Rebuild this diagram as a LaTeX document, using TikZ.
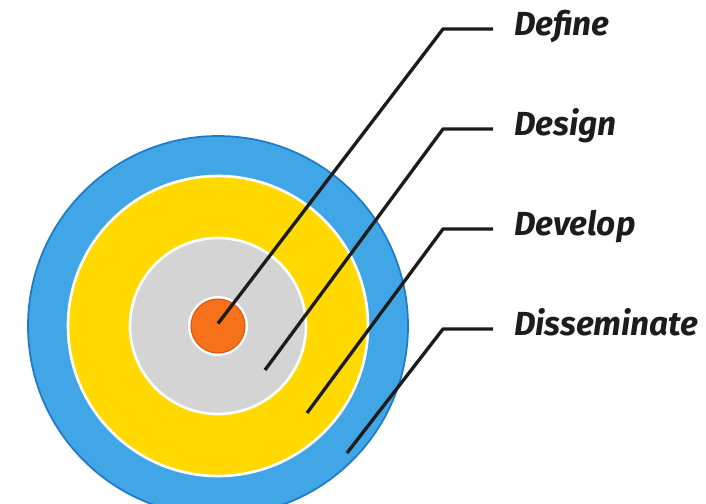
\documentclass[tikz,border=0pt]{standalone}
\usepackage{fontspec}
\setmainfont{Fira Sans}
\usetikzlibrary{positioning}

\definecolor{ringblue}{HTML}{41A6E6}
\definecolor{ringblueedge}{HTML}{1F7ACC}
\definecolor{ringyellow}{HTML}{FFD900}
\definecolor{ringgray}{HTML}{D4D4D4}
\definecolor{coreorange}{HTML}{F7711A}
\definecolor{coreedge}{HTML}{E0520A}
\definecolor{leader}{HTML}{1C1C1C}

\tikzset{
  stage/.style={anchor=west, inner xsep=0.42cm, inner ysep=0pt, outer sep=0pt,
    text height=0.7em, text depth=0pt,
    font=\fontsize{19}{21}\selectfont\bfseries\itshape, text=leader},
  leaderline/.style={draw=leader, line width=1.9pt, line join=round},
}

\begin{document}
\begin{tikzpicture}
  \useasboundingbox (-4.36,-3.54) rectangle (9.76,6.52);

  % Rings, outside in
  \fill[ringblue, draw=ringblueedge, line width=1pt] (0,0) circle (3.8);
  \fill[ringyellow, draw=white, line width=1.5pt] (0,0) circle (3.0);
  \fill[ringgray, draw=white, line width=1.5pt] (0,0) circle (1.76);
  \fill[white] (0,0) circle (0.6);
  \fill[coreorange, draw=coreedge, line width=0.6pt] (0,0) circle (0.54);

  % Free ends of the leaders inside the rings
  \coordinate (inDefine) at (0,0.05);
  \coordinate (inDesign) at (0.94,-0.88);
  \coordinate (inDevelop) at (1.78,-1.74);
  \coordinate (inDisseminate) at (2.58,-2.54);

  % Elbows
  \coordinate (kDefine) at (4.5,5.94);
  \coordinate (kDesign) at (4.5,3.94);
  \coordinate (kDevelop) at (4.5,1.94);
  \coordinate (kDisseminate) at (4.5,-0.06);

  % Labels
  \node[stage] (define) at (5.5,5.94) {Define};
  \node[stage] (design) at (5.5,3.94) {Design};
  \node[stage] (develop) at (5.5,1.94) {Develop};
  \node[stage] (disseminate) at (5.5,-0.06) {Disseminate};

  % Leader lines
  \draw[leaderline] (inDefine) -- (kDefine) -- (define.west);
  \draw[leaderline] (inDesign) -- (kDesign) -- (design.west);
  \draw[leaderline] (inDevelop) -- (kDevelop) -- (develop.west);
  \draw[leaderline] (inDisseminate) -- (kDisseminate) -- (disseminate.west);
\end{tikzpicture}
\end{document}
